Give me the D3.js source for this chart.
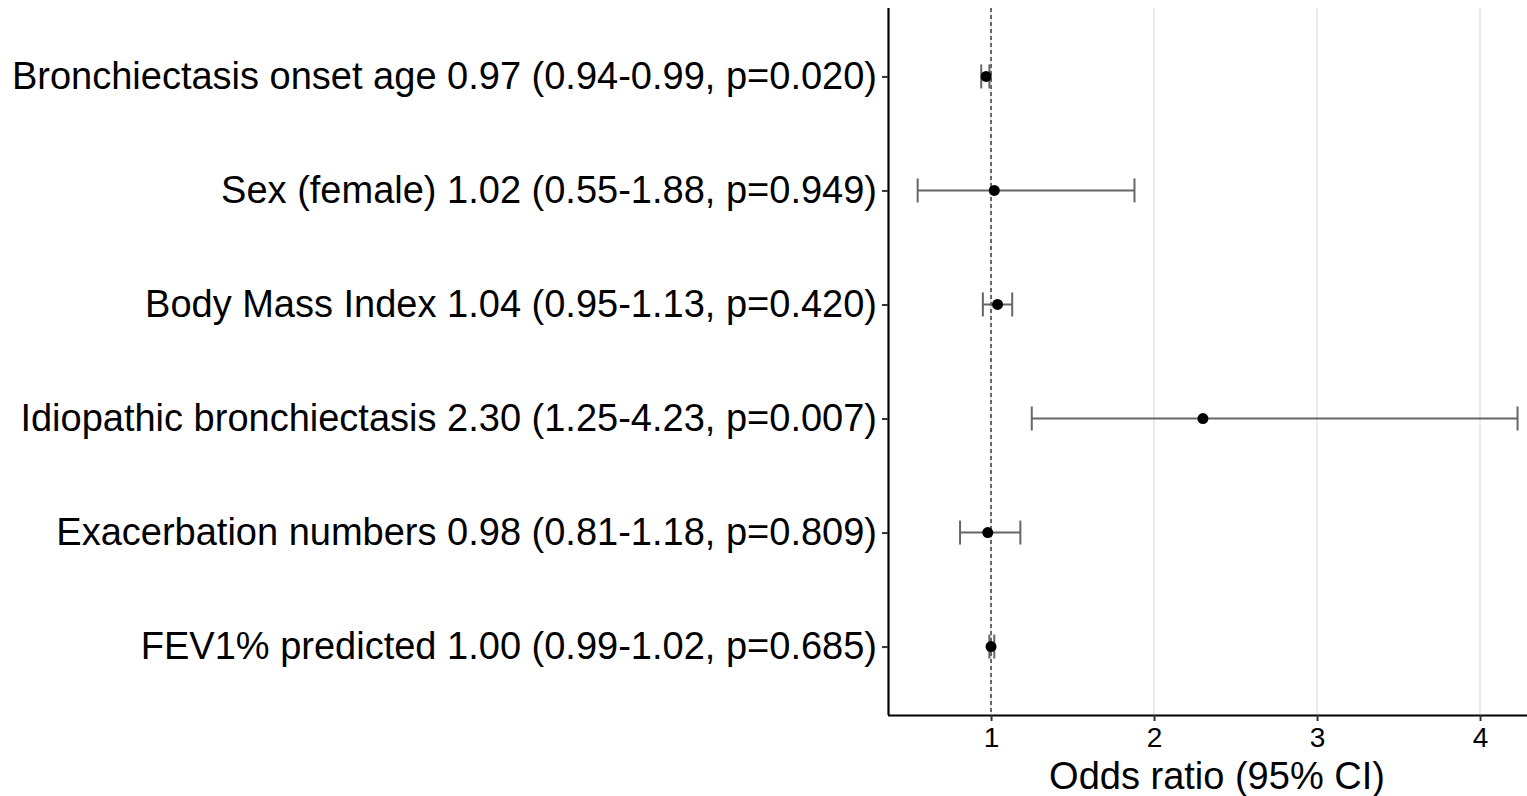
<!DOCTYPE html>
<html>
<head>
<meta charset="utf-8">
<script src="https://cdn.jsdelivr.net/npm/d3@7/dist/d3.min.js"></script>
<style>
  html, body { margin: 0; padding: 0; background: #fff; }
  svg { display: block; font-family: "Liberation Sans", Arial, sans-serif; }
  .x-axis .tick text { font-size: 28px; }
  .y-axis .tick text { font-size: 38px; }
</style>
</head>
<body>
<svg id="chart" width="1527" height="796"></svg>
<script>
// Logistic regression results: odds ratios with 95% confidence intervals
const labels = [
  "Bronchiectasis onset age 0.97 (0.94-0.99, p=0.020)",
  "Sex (female) 1.02 (0.55-1.88, p=0.949)",
  "Body Mass Index 1.04 (0.95-1.13, p=0.420)",
  "Idiopathic bronchiectasis 2.30 (1.25-4.23, p=0.007)",
  "Exacerbation numbers 0.98 (0.81-1.18, p=0.809)",
  "FEV1% predicted 1.00 (0.99-1.02, p=0.685)"
];
const oddsRatio = [0.97, 1.02, 1.04, 2.30, 0.98, 1.00];
const ciLower   = [0.94, 0.55, 0.95, 1.25, 0.81, 0.99];
const ciUpper   = [0.99, 1.88, 1.13, 4.23, 1.18, 1.02];
const xTicks    = [1, 2, 3, 4];
const xDomain   = [0.368, 4.288];
const axisTitle = "Odds ratio (95% CI)";

const rows = labels.map((label, i) => ({
  label, or: oddsRatio[i], lo: ciLower[i], hi: ciUpper[i]
}));

const svg = d3.select("#chart");
const panel = { left: 888, right: 1527, top: 8, bottom: 715 };

const x = d3.scaleLinear().domain(xDomain).range([panel.left, panel.right]);
const y = d3.scalePoint().domain(labels).range([panel.top, panel.bottom]).padding(0.6);

// vertical gridlines at the major ticks
svg.append("g")
  .selectAll("line")
  .data(xTicks)
  .join("line")
  .attr("x1", d => x(d)).attr("x2", d => x(d))
  .attr("y1", panel.top).attr("y2", panel.bottom)
  .attr("stroke", "#ebebeb").attr("stroke-width", 2);

// reference line at OR = 1
svg.append("line")
  .attr("x1", x(1)).attr("x2", x(1))
  .attr("y1", panel.top).attr("y2", panel.bottom)
  .attr("stroke", "#000").attr("stroke-width", 1.1)
  .attr("stroke-dasharray", "4,3");

// confidence intervals
const ci = svg.append("g").attr("stroke", "#666").attr("stroke-width", 2).attr("fill", "none");
const capH = 12;
ci.selectAll("line.bar").data(rows).join("line").attr("class", "bar")
  .attr("x1", d => x(d.lo)).attr("x2", d => x(d.hi))
  .attr("y1", d => y(d.label)).attr("y2", d => y(d.label));
ci.selectAll("line.lo").data(rows).join("line").attr("class", "lo")
  .attr("x1", d => x(d.lo)).attr("x2", d => x(d.lo))
  .attr("y1", d => y(d.label) - capH).attr("y2", d => y(d.label) + capH);
ci.selectAll("line.hi").data(rows).join("line").attr("class", "hi")
  .attr("x1", d => x(d.hi)).attr("x2", d => x(d.hi))
  .attr("y1", d => y(d.label) - capH).attr("y2", d => y(d.label) + capH);

// point estimates
svg.append("g").selectAll("circle").data(rows).join("circle")
  .attr("cx", d => x(d.or)).attr("cy", d => y(d.label)).attr("r", 5.5)
  .attr("fill", "#000");

// x axis
const xAxis = svg.append("g")
  .attr("class", "x-axis")
  .attr("transform", `translate(0,${panel.bottom})`)
  .call(d3.axisBottom(x).tickValues(xTicks).tickFormat(d3.format("d")).tickSize(6).tickPadding(6));
xAxis.attr("font-family", "Liberation Sans, Arial, sans-serif");
xAxis.select(".domain").attr("stroke", "#000").attr("stroke-width", 2.2)
  .attr("d", `M${panel.left},0.5H${panel.right}`);
xAxis.selectAll(".tick line").attr("stroke", "#333").attr("stroke-width", 2);
xAxis.selectAll(".tick text").attr("fill", "#000");

// y axis
const yAxis = svg.append("g")
  .attr("class", "y-axis")
  .attr("transform", `translate(${panel.left},0)`)
  .call(d3.axisLeft(y).tickSize(6).tickPadding(5));
yAxis.attr("font-family", "Liberation Sans, Arial, sans-serif");
yAxis.select(".domain").attr("stroke", "#000").attr("stroke-width", 2.2)
  .attr("d", `M0.5,${panel.top}V${panel.bottom}`);
yAxis.selectAll(".tick line").attr("stroke", "#333").attr("stroke-width", 2);
yAxis.selectAll(".tick text").attr("fill", "#000");

// axis title
svg.append("text")
  .attr("x", 1217)
  .attr("y", 789)
  .attr("text-anchor", "middle")
  .attr("font-size", 38)
  .attr("fill", "#000")
  .text(axisTitle);
</script>
</body>
</html>
